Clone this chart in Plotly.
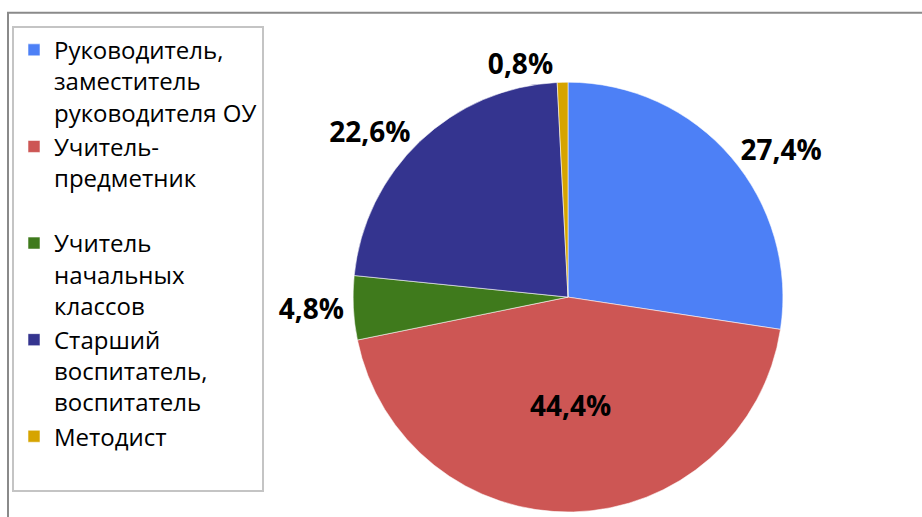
import re
import plotly.graph_objects as go

# ---- data ----
categories = [
    "Руководитель, заместитель руководителя ОУ",
    "Учитель-предметник",
    "Учитель начальных классов",
    "Старший воспитатель, воспитатель",
    "Методист",
]
shares = [27.4, 44.4, 4.8, 22.6, 0.8]
colors = ["#4d80f6", "#cd5654", "#3f7a1c", "#34348f", "#d6a400"]
label_positions = ["outside", "inside", "outside", "outside", "outside"]


def wrap(text, width=15, lines=3):
    tokens = re.findall(r"[^\s-]+-?", text)
    out, cur = [], ""
    for t in tokens:
        sep = "" if (cur.endswith("-") or not cur) else " "
        if cur and len(cur) + len(sep) + len(t) > width:
            out.append(cur)
            cur = t
        else:
            cur = cur + sep + t
    if cur:
        out.append(cur)
    while len(out) < lines:
        out.append(" ")
    return "<br>".join(out)


legend_labels = [wrap(c, lines=(3 if i < len(categories) - 1 else 2))
                 for i, c in enumerate(categories)]

W, H = 922, 517
cx, r, top = 568, 217, 83

fig = go.Figure(
    go.Pie(
        labels=legend_labels,
        values=shares,
        sort=False,
        direction="clockwise",
        rotation=0,
        marker=dict(colors=colors, line=dict(color="rgba(255,255,255,0.55)", width=1)),
        texttemplate="%{value:.1f}%",
        textposition=label_positions,
        textfont=dict(family="Open Sans", size=28, color="black", weight="bold"),
        insidetextfont=dict(family="Open Sans", size=28, color="black", weight="bold"),
        outsidetextfont=dict(family="Open Sans", size=28, color="black", weight="bold"),
        insidetextorientation="horizontal",
        hoverinfo="skip",
        domain=dict(x=[(cx - r) / W, (cx + r) / W], y=[0, 1 - top / H]),
    )
)

fig.update_layout(
    width=W,
    height=H,
    margin=dict(l=0, r=0, t=0, b=0),
    paper_bgcolor="white",
    plot_bgcolor="white",
    separators=", ",
    showlegend=True,
    legend=dict(
        x=12 / W,
        y=1 - 26 / H,
        xanchor="left",
        yanchor="top",
        bgcolor="white",
        bordercolor="#c4c4c4",
        borderwidth=2,
        valign="top",
        font=dict(family="Open Sans", size=24, color="black"),
        traceorder="normal",
    ),
    shapes=[
        dict(
            type="rect",
            xref="paper",
            yref="paper",
            x0=8 / W,
            x1=1.05,
            y0=-0.05,
            y1=1 - 13 / H,
            line=dict(color="#8a8a8a", width=2),
            layer="below",
        )
    ],
)

fig.write_html(
    "out.html",
    config={"displayModeBar": False},
    post_script="document.body.style.margin='0';document.documentElement.style.overflow='hidden';document.body.style.overflow='hidden';",
)
